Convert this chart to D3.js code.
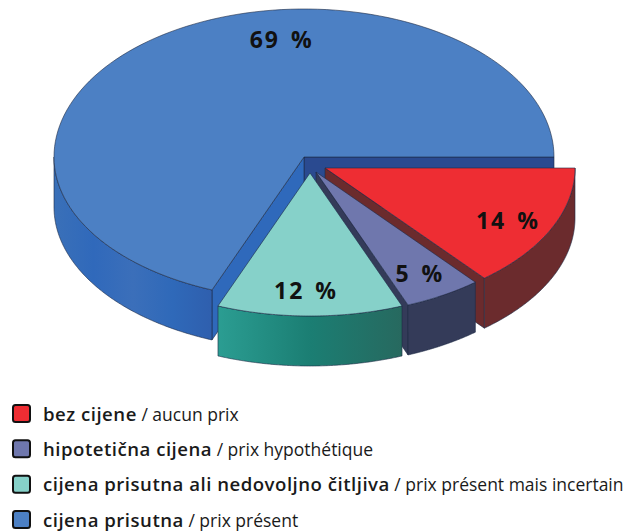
<!DOCTYPE html>
<html>
  <head>
    <meta charset="utf-8">
    <script src="https://d3js.org/d3.v7.min.js"></script>
    <style>
      html, body { margin: 0; background: #fff; }
      svg { display: block; font-family: "Open Sans", "Noto Sans", sans-serif; }
    </style>
  </head>
  <body>
    <script>

      // data
      var categories = ["bez cijene", "hipotetična cijena", "cijena prisutna ali nedovoljno čitljiva", "cijena prisutna"];
      var translations = ["aucun prix", "prix hypothétique", "prix présent mais incertain", "prix présent"];
      var values = [14, 5, 12, 69];

      // colours, one per slice
      var topColors = ["#ee2d33", "#6f77ad", "#86d1c9", "#4c80c4"];
      var cutColors = ["#6b2b2d", "#343b59", "#2a8f85", "#2f69bb"];
      var outerStops = [
        ["#6b2b2d", "#6b2b2d"],
        ["#343b59", "#343b59"],
        ["#2b9d92", "#1b7e73", "#27695f"],
        ["#3a70b8", "#3069bb", "#3b6fba", "#2f69b9", "#2f5fae"]
      ];
      var eastWallColor = "#2a4a90";

      // how far each slice is pulled out of the pie
      var explode = [[21, 11], [12, 15], [6, 16], [0, 0]];

      var w = 625, h = 532;
      var cx = 304, cy = 157, rx = 250, depth = 50;
      // the picture is in perspective, the back half is a bit deeper than the front
      var ryBack = 148, ryFront = 143;

      var svg = d3.select("body")
        .append("svg")
        .attr("width", w)
        .attr("height", h);

      var defs = svg.append("defs");

      var pie = d3.pie()
        .sort(null)
        .startAngle(Math.PI / 2)
        .endAngle(Math.PI * 2.5);

      var slices = pie(values);

      // d3 angle (0 = north, clockwise) to a point on the flattened ellipse
      function px(a, f) { return rx * f * Math.sin(a); }
      function py(a, f) {
        var c = Math.cos(a);
        return -(c > 0 ? ryBack : ryFront) * f * c;
      }

      function sample(a0, a1) {
        return d3.range(0, 121).map(function(k) { return a0 + (a1 - a0) * k / 120; });
      }

      var line = d3.line();

      var outerWall = d3.area()
        .x(function(a) { return px(a, 1); })
        .y0(function(a) { return py(a, 1); })
        .y1(function(a) { return py(a, 1) + depth; });

      // straight wall hanging under a cut edge
      function cutWall(a) {
        return line([[0, 0], [px(a, 1), py(a, 1)], [px(a, 1), py(a, 1) + depth], [0, depth]]) + "Z";
      }

      // painter's order: back slice first
      var order = [3, 0, 1, 2];

      order.forEach(function(i) {
        var s = slices[i];
        var g = svg.append("g")
          .attr("transform", "translate(" + (cx + explode[i][0]) + "," + (cy + explode[i][1]) + ")")
          .attr("stroke", "#1c2a44")
          .attr("stroke-width", 0.6)
          .attr("stroke-linejoin", "round");

        // which cut edges face the viewer differs per slice, the teal one shows none
        if (i === 3) {
          g.append("path").attr("d", cutWall(Math.PI / 2)).attr("fill", eastWallColor);
          g.append("path").attr("d", cutWall(s.startAngle)).attr("fill", cutColors[i]);
        } else if (i !== 2) {
          g.append("path").attr("d", cutWall(s.endAngle)).attr("fill", cutColors[i]);
        }

        // outer rim, only the front half of the ellipse is visible
        var a0 = Math.max(s.startAngle, Math.PI / 2);
        var a1 = Math.min(s.endAngle, Math.PI * 1.5);
        var grad = defs.append("linearGradient")
          .attr("id", "rim" + i)
          .attr("gradientUnits", "userSpaceOnUse")
          .attr("x1", d3.min([px(a0, 1), px(a1, 1)]))
          .attr("x2", d3.max([px(a0, 1), px(a1, 1)]))
          .attr("y1", 0)
          .attr("y2", 0);
        outerStops[i].forEach(function(c, k) {
          grad.append("stop")
            .attr("offset", k / (outerStops[i].length - 1))
            .attr("stop-color", c);
        });

        g.append("path")
          .attr("d", outerWall(sample(a0, a1)))
          .attr("fill", "url(#rim" + i + ")");

        // flat top
        var rim = sample(s.startAngle, s.endAngle).map(function(a) { return [px(a, 1), py(a, 1)]; });
        g.append("path")
          .attr("d", line([[0, 0]].concat(rim)) + "Z")
          .attr("fill", topColors[i]);
      });

      // percent labels sit at 80% of the radius; the big one is nudged to the top
      var labelAngle = [null, null, null, -7 * Math.PI / 180];

      slices.forEach(function(s, i) {
        var a = labelAngle[i] !== null ? labelAngle[i] : (s.startAngle + s.endAngle) / 2;
        svg.append("text")
          .attr("x", cx + explode[i][0] + px(a, 0.8) + (i === 2 ? -4 : 2))
          .attr("y", cy + explode[i][1] + py(a, 0.8) + (i === 3 ? 9 : 12))
          .attr("text-anchor", "middle")
          .attr("font-size", 23)
          .attr("font-weight", 700)
          .attr("letter-spacing", 2)
          .attr("word-spacing", 3)
          .attr("fill", "#111")
          .text(values[i] + " %");
      });

      // legend
      var legend = svg.append("g").attr("class", "legend");
      var rowY = d3.scalePoint().domain(d3.range(categories.length)).range([413.5, 519.5]);

      categories.forEach(function(c, i) {
        var y = rowY(i);
        legend.append("rect")
          .attr("x", 13)
          .attr("y", y - 8.5)
          .attr("width", 17)
          .attr("height", 17)
          .attr("rx", 2.5)
          .attr("fill", topColors[i])
          .attr("stroke", "#111")
          .attr("stroke-width", 2);

        var t = legend.append("text")
          .attr("x", 43)
          .attr("y", y + 7)
          .attr("fill", "#1a1a1a");
        t.append("tspan")
          .attr("font-size", 18.6)
          .attr("font-weight", 600)
          .attr("letter-spacing", 0.5)
          .text(c);
        t.append("tspan")
          .attr("font-size", 17.5)
          .attr("font-weight", 400)
          .text(" / " + translations[i]);
      });

    </script>
  </body>
</html>
